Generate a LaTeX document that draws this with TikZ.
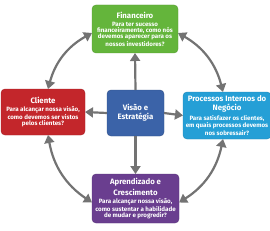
\documentclass[tikz,border=0pt]{standalone}
\usepackage{fontspec}
\setmainfont{Fira Sans}
\usetikzlibrary{arrows.meta}
\definecolor{finGreen}{HTML}{64B53B}
\definecolor{cliRed}{HTML}{C3262B}
\definecolor{proCyan}{HTML}{259FD6}
\definecolor{aprPurple}{HTML}{6A3E8F}
\definecolor{visBlue}{HTML}{3B63A8}
\definecolor{arrowGray}{HTML}{737373}
\newcommand\cardtitle[1]{{\fontsize{7.8}{9}\selectfont #1}}

\begin{document}
\begin{tikzpicture}[x=1pt, y=-1pt,
    every node/.style={inner sep=0pt, outer sep=0pt},
    card/.style={rounded corners=4pt, text=white, align=center, font=\bfseries\fontsize{6.2}{6}\selectfont},
    link/.style={draw=arrowGray, line width=2.2pt, -{Triangle[length=8pt,width=10pt]}},
    ring/.style={draw=arrowGray, line width=2.2pt, {Triangle[length=8pt,width=10pt]}-{Triangle[length=8pt,width=10pt]}}]
  \useasboundingbox (0,0) rectangle (270,230);
  % the five cards
  \node[card, fill=visBlue, draw=visBlue!80!black, minimum width=57pt, minimum height=46pt] (vis) at (135.5,113)
    {\cardtitle{Visão e}\\[1pt]\cardtitle{Estratégia}};
  \node[card, fill=finGreen, draw=finGreen!85!black, minimum width=86pt, minimum height=48pt] (fin) at (135,29)
    {\cardtitle{Financeiro}\\[2.5pt]Para ter sucesso\\financeiramente, como nós\\devemos aparecer para os\\nossos investidores?};
  \node[card, fill=cliRed, draw=cliRed!85!black, minimum width=84pt, minimum height=46pt] (cli) at (43,112)
    {\cardtitle{Cliente}\\[2.5pt]Para alcançar nossa visão,\\como devemos ser vistos\\pelos clientes?};
  \node[card, fill=proCyan, draw=proCyan!85!black, minimum width=88pt, minimum height=47pt] (pro) at (227,115.5)
    {\cardtitle{Processos Internos do}\\[1.5pt]\cardtitle{Negócio}\\[2pt]Para satisfazer os clientes,\\em quais processos devemos\\nos sobressair?};
  \node[card, fill=aprPurple, draw=aprPurple!85!black, minimum width=87pt, minimum height=49pt] (apr) at (135.5,198.5)
    {\cardtitle{Aprendizado e}\\[1.5pt]\cardtitle{Crescimento}\\[2pt]Para alcançar nossa visão,\\como sustentar a habilidade\\de mudar e progredir?};
  % spokes
  \draw[link] (vis.north) -- (fin.south);
  \draw[link] (vis.south) -- (apr.north);
  \draw[link] (vis.west) -- (cli.east);
  \draw[link] (vis.east) -- (pro.west);
  % outer ring
  \draw[ring] ([xshift=5pt]cli.north) to[bend left=23] ([yshift=-4pt]fin.west);
  \draw[ring] ([yshift=-4pt]fin.east) to[bend left=23] ([xshift=-4pt]pro.north);
  \draw[ring] ([xshift=-4pt]pro.south) to[bend left=23] ([yshift=-4pt]apr.east);
  \draw[ring] ([yshift=-4pt]apr.west) to[bend left=23] ([xshift=5pt]cli.south);
\end{tikzpicture}
\end{document}
